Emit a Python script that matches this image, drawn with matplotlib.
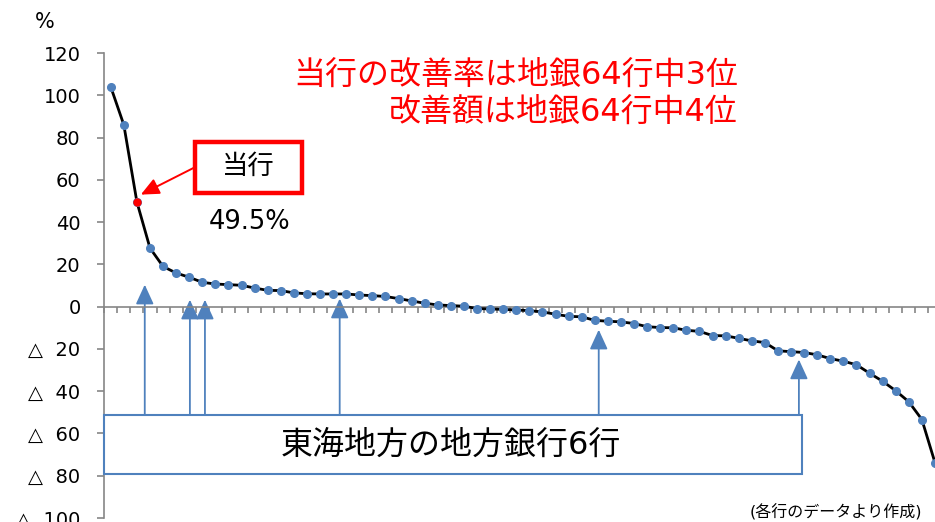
import numpy as np
import matplotlib
matplotlib.use("Agg")
import matplotlib.pyplot as plt
from matplotlib.patches import Rectangle

plt.rcParams['font.family'] = ['DejaVu Sans', 'Noto Sans CJK JP']

# 地銀64行の改善率（%）, 降順
rates = [104.0, 86.0, 49.5, 27.7, 19.0, 15.9, 13.9, 11.5, 10.7, 10.4,
         10.1, 8.8, 7.7, 7.6, 6.5, 6.1, 6.0, 6.0, 6.0, 5.5,
         5.2, 4.8, 3.8, 2.7, 1.6, 0.8, 0.5, 0.2, -0.9, -1.1,
         -1.3, -1.6, -1.9, -2.5, -3.6, -4.6, -4.8, -6.5, -6.9, -7.2,
         -8.0, -9.5, -9.9, -10.0, -11.2, -11.7, -13.7, -13.8, -15.0, -16.2,
         -17.0, -20.9, -21.3, -21.7, -22.8, -24.6, -25.8, -27.5, -31.5, -35.3,
         -39.8, -45.0, -53.4, -73.8]
own_rank = 2  # 当行 (0始まり)

# 東海地方の地方銀行6行 (矢印の位置と先端の高さ)
tokai_pos = [2.6, 6.05, 7.2, 17.5, 37.3, 52.6]
tokai_tip = [10.4, 3.3, 3.3, 3.8, -10.9, -25.0]

yticks = [120, 100, 80, 60, 40, 20, 0, -20, -40, -60, -80, -100]
ytick_labels = ['120', '100', '80', '60', '40', '20', '0',
                '△  20', '△  40', '△  60', '△  80', '△  100']

blue = '#4F81BD'
red = '#FF0000'
gray = '#868686'

W, H = 935, 522
fig = plt.figure(figsize=(W / 100, H / 100), dpi=100)
ax = fig.add_axes([104.2 / W, 4 / H, (941.5 - 104.2) / W, (518 - 53) / H])

x = np.arange(len(rates))
ax.plot(x, rates, color='black', lw=2.0, zorder=3,
        marker='o', ms=5.5, mfc=blue, mec=blue)
ax.plot(x[own_rank], rates[own_rank], 'o', ms=5, color=red, zorder=4)

ax.set_xlim(-0.5, len(rates) - 0.5)
ax.set_ylim(-100, 120)

for s in ['top', 'right']:
    ax.spines[s].set_visible(False)
ax.spines['left'].set_color(gray)
ax.spines['bottom'].set_color(gray)
ax.spines['bottom'].set_position(('data', 0))
ax.spines['left'].set_linewidth(1.2)
ax.spines['bottom'].set_linewidth(1.2)

ax.set_yticks(yticks)
ax.set_yticklabels(ytick_labels, fontsize=14)
ax.tick_params(axis='y', direction='out', length=5, width=1.2, color=gray, pad=12)
ax.set_xticks(np.arange(-0.5, len(rates), 1))
ax.tick_params(axis='x', direction='out', length=4, width=1.2, color=gray,
               labelbottom=False)

fig.text(45 / W, 1 - 22 / H, '%', fontsize=15, ha='center', va='center')

# 東海地方の地方銀行
box_top, box_bottom = -51.5, -79.4
for px, tip in zip(tokai_pos, tokai_tip):
    ax.annotate('', xy=(px, tip), xytext=(px, box_top),
                arrowprops=dict(arrowstyle='-|>,head_length=1.2,head_width=0.55',
                                color=blue, lw=1.3, shrinkA=0, shrinkB=0),
                zorder=2)
ax.add_patch(Rectangle((-0.5, box_bottom), 53.35, box_top - box_bottom,
                       fc='white', ec=blue, lw=1.5, zorder=5, clip_on=False))
ax.text(26.0, (box_top + box_bottom) / 2, '東海地方の地方銀行6行',
        fontsize=23, ha='center', va='center', zorder=6)

# 当行
ax.add_patch(Rectangle((6.45, 53.7), 8.15, 24.4, fc='white', ec=red,
                       lw=3.2, zorder=5))
ax.text(10.5, 66.0, '当行', fontsize=19, ha='center', va='center', zorder=6)
ax.text(10.6, 40.2, '49.5%', fontsize=18.5, ha='center', va='center')
ax.annotate('', xy=(2.3, 53.0), xytext=(6.45, 66.0),
            arrowprops=dict(arrowstyle='-|>,head_length=1.1,head_width=0.5',
                            color=red, lw=1.4, shrinkA=0, shrinkB=0), zorder=6)

fig.text(738 / W, 1 - 75 / H, '当行の改善率は地銀64行中3位',
         fontsize=23, color=red, ha='right', va='center')
fig.text(738 / W, 1 - 112 / H, '改善額は地銀64行中4位',
         fontsize=23, color=red, ha='right', va='center')

fig.text(922 / W, 1 - 512 / H, '(各行のデータより作成)', fontsize=11.5,
         ha='right', va='center')

fig.savefig('out.png', dpi=100)
